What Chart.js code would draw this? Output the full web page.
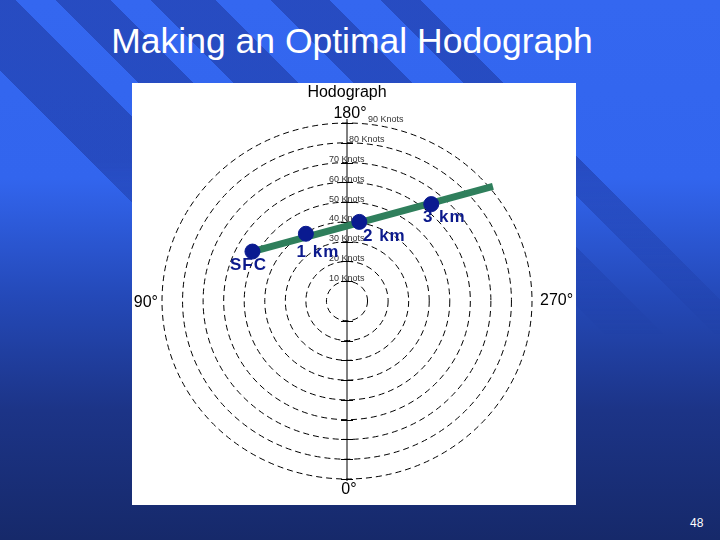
<!DOCTYPE html>
<html>
<head>
<meta charset="utf-8">
<title>Making an Optimal Hodograph</title>
<script src="https://cdn.jsdelivr.net/npm/chart.js@4.4.1/dist/chart.umd.min.js"></script>
<style>
  body {
    margin: 0;
    width: 720px;
    height: 540px;
    overflow: hidden;
    position: relative;
    font-family: "Liberation Sans", Arial, sans-serif;
    background: linear-gradient(to bottom, #3467f0 0%, #3265ee 33%, #2449b8 55%, #1c3487 76%, #16296a 100%);
  }
  #rayas {
    position: absolute;
    left: 0; top: 0; width: 720px; height: 540px;
    background: linear-gradient(45deg,
      transparent 0px, transparent 332px,
      rgba(22,40,130,0.42) 332px, rgba(22,40,130,0.42) 393px,
      transparent 393px, transparent 421px,
      rgba(22,40,130,0.42) 421px, rgba(22,40,130,0.42) 460px,
      transparent 460px, transparent 488px,
      rgba(22,40,130,0.42) 488px, rgba(22,40,130,0.42) 534px,
      transparent 534px, transparent 573px,
      rgba(22,40,130,0.42) 573px, rgba(22,40,130,0.42) 615px,
      transparent 615px, transparent 651px,
      rgba(22,40,130,0.42) 651px, rgba(22,40,130,0.42) 679px,
      transparent 679px);
    -webkit-mask-image: linear-gradient(to bottom, #000 0%, #000 30%, transparent 62%);
    mask-image: linear-gradient(to bottom, #000 0%, #000 30%, transparent 62%);
  }
  #titulo {
    position: absolute;
    left: 0; width: 704px; top: 21px;
    text-align: center;
    color: #fff;
    font-size: 35.5px;
  }
  #panel {
    position: absolute;
    left: 132px; top: 83px;
    width: 444px; height: 422px;
    background: #fff;
  }
  #numero {
    position: absolute;
    left: 690px; top: 516px;
    color: #fff;
    font-size: 12px;
  }
</style>
</head>
<body>
<div id="rayas"></div>
<div id="titulo">Making an Optimal Hodograph</div>
<div id="panel"><canvas id="myChart" width="444" height="422"></canvas></div>
<div id="numero">48</div>

<script>
// anillos de velocidad (nudos)
let anillos = [10, 20, 30, 40, 50, 60, 70, 80, 90];
let etiquetasAnillos = ["10 Knots", "20 Knots", "30 Knots", "40 Knots", "50 Knots", "60 Knots", "70 Knots", "80 Knots", "90 Knots"];

// puntos del hodografo (componentes u / v en nudos)
let niveles = ["SFC", "1 km", "2 km", "3 km"];
let vientoU = [-46, -20, 6, 41];
let vientoV = [25, 34, 40, 49];

// linea optima
let lineaU = [-46, 71];
let lineaV = [25, 58];

let tituloGrafico = "Hodograph";
let rumbos = ["180°", "270°", "0°", "90°"];

let myChart = document.querySelector("#myChart");

const hodografo = {
  id: "hodografo",
  beforeDatasetsDraw(chart) {
    const { ctx } = chart;
    const x = chart.scales.x;
    const y = chart.scales.y;
    const cx = x.getPixelForValue(0);
    const cy = y.getPixelForValue(0);

    ctx.save();
    ctx.strokeStyle = "#000";
    ctx.lineWidth = 1;

    // anillos punteados
    ctx.setLineDash([6, 4]);
    anillos.forEach((r) => {
      ctx.beginPath();
      ctx.ellipse(cx, cy, x.getPixelForValue(r) - cx, cy - y.getPixelForValue(r), 0, 0, Math.PI * 2);
      ctx.stroke();
    });
    ctx.setLineDash([]);

    // eje vertical con marcas
    ctx.beginPath();
    ctx.moveTo(cx, y.getPixelForValue(92));
    ctx.lineTo(cx, y.getPixelForValue(-91));
    anillos.forEach((r) => {
      [r, -r].forEach((v) => {
        const py = Math.round(y.getPixelForValue(v)) + 0.5;
        ctx.moveTo(cx - 6, py);
        ctx.lineTo(cx + 6, py);
      });
    });
    ctx.stroke();

    // etiquetas de nudos
    ctx.fillStyle = "#333";
    ctx.font = "9px 'Liberation Sans', Arial, sans-serif";
    ctx.textBaseline = "middle";
    ctx.textAlign = "left";
    anillos.forEach((r, i) => {
      let px = cx - 18;
      if (r === 80) px = cx + 2;
      if (r === 90) px = cx + 21;
      ctx.fillText(etiquetasAnillos[i], px, y.getPixelForValue(r) - 3);
    });

    // titulo y rumbos
    ctx.fillStyle = "#000";
    ctx.font = "16px 'Liberation Sans', Arial, sans-serif";
    ctx.textAlign = "center";
    ctx.fillText(tituloGrafico, cx, 10);
    ctx.fillText(rumbos[0], cx + 3, y.getPixelForValue(95));
    ctx.fillText(rumbos[2], cx + 2, y.getPixelForValue(-95.5));
    ctx.textAlign = "left";
    ctx.fillText(rumbos[1], x.getPixelForValue(90) + 8, cy);
    ctx.textAlign = "right";
    ctx.fillText(rumbos[3], x.getPixelForValue(-90) - 4, cy + 2);
    ctx.restore();
  },
  afterDatasetsDraw(chart) {
    const { ctx } = chart;
    const meta = chart.getDatasetMeta(0);
    const desplazamientos = [[-4, 14], [12, 19], [25, 14], [13, 13]];
    ctx.save();
    ctx.fillStyle = "#0c1a8c";
    ctx.font = "bold 17px 'Liberation Sans', Arial, sans-serif";
    ctx.letterSpacing = "1px";
    ctx.textAlign = "center";
    ctx.textBaseline = "middle";
    meta.data.forEach((punto, i) => {
      ctx.fillText(niveles[i], punto.x + desplazamientos[i][0], punto.y + desplazamientos[i][1]);
    });
    ctx.restore();
  },
};

const conf = {
  type: "scatter",
  data: {
    datasets: [
      {
        label: "Hodografo",
        data: vientoU.map((u, i) => ({ x: u, y: vientoV[i] })),
        backgroundColor: "#0a1a90",
        borderColor: "#0a1a90",
        pointRadius: 7.5,
        showLine: false,
      },
      {
        label: "Linea",
        data: lineaU.map((u, i) => ({ x: u, y: lineaV[i] })),
        borderColor: "#2f7f5c",
        borderWidth: 7,
        pointRadius: 0,
        showLine: true,
      },
    ],
  },
  options: {
    responsive: false,
    animation: false,
    layout: { padding: { left: 30, right: 44, top: 40, bottom: 26 } },
    scales: {
      x: { type: "linear", min: -90, max: 90, display: false },
      y: { type: "linear", min: -90, max: 90, display: false },
    },
    plugins: {
      legend: { display: false },
      tooltip: { enabled: false },
    },
  },
  plugins: [hodografo],
};

new Chart(myChart, conf);
</script>
</body>
</html>
